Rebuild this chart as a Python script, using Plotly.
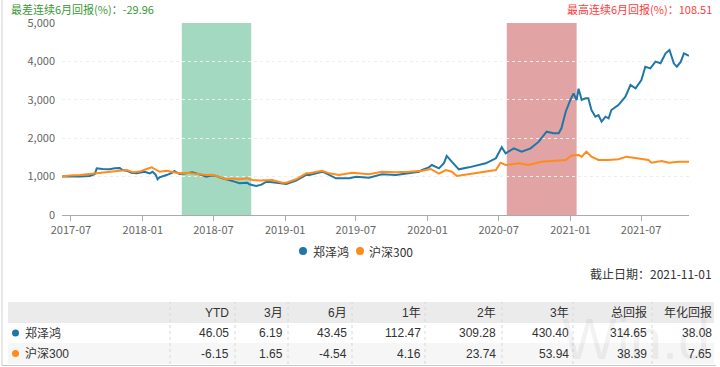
import plotly.graph_objects as go

# ---------------- data ----------------
blue_name = "郑泽鸿"
orange_name = "沪深300"

blue_dates = ["2017-06-08","2017-06-28","2017-07-24","2017-08-18","2017-08-31","2017-09-05","2017-09-20",
    "2017-10-08","2017-10-21","2017-11-03","2017-11-10","2017-11-21","2017-12-03","2017-12-16","2018-01-06",
    "2018-01-19","2018-01-26","2018-02-03","2018-02-08","2018-02-13","2018-03-03","2018-03-18","2018-03-23",
    "2018-04-05","2018-04-23","2018-05-08","2018-05-26","2018-06-13","2018-06-26","2018-07-09","2018-07-24",
    "2018-08-11","2018-08-24","2018-09-06","2018-09-26","2018-10-01","2018-10-19","2018-11-01","2018-11-14",
    "2018-11-29","2018-12-24","2019-01-04","2019-01-29","2019-02-24","2019-03-04","2019-03-29","2019-04-06",
    "2019-04-16","2019-05-01","2019-05-11","2019-06-14","2019-07-02","2019-08-04","2019-09-06","2019-10-12",
    "2019-11-14","2019-12-10","2019-12-18","2020-01-04","2020-01-12","2020-01-17","2020-01-30","2020-02-12",
    "2020-02-19","2020-03-03","2020-03-21","2020-04-16","2020-05-11","2020-05-29","2020-06-24","2020-07-09",
    "2020-07-19","2020-08-09","2020-08-29","2020-09-21","2020-10-12","2020-11-01","2020-11-19","2020-12-02",
    "2020-12-09","2020-12-20","2021-01-01","2021-01-09","2021-01-17","2021-01-22","2021-01-30","2021-02-09",
    "2021-02-16","2021-02-24","2021-03-06","2021-03-14","2021-03-22","2021-04-01","2021-04-09","2021-04-16",
    "2021-05-04","2021-05-22","2021-06-04","2021-06-17","2021-07-02","2021-07-12","2021-07-25","2021-08-07",
    "2021-08-20","2021-09-02","2021-09-12","2021-09-23","2021-10-01","2021-10-11","2021-10-19","2021-10-27",
    "2021-11-01"]
blue_vals = [1000,1010,1000,1016,1060,1215,1200,1190,1215,1224,1172,1154,1100,1085,1128,1085,1128,1050,930,982,
    1040,1102,1146,1068,1090,1111,1059,998,1030,1016,955,911,870,825,842,800,755,790,868,850,825,807,894,1042,
    1042,1102,1128,1085,998,955,955,998,972,1059,1042,1085,1128,1172,1241,1302,1276,1215,1350,1540,1389,1189,
    1241,1302,1346,1476,1765,1606,1736,1649,1736,1910,2170,2127,2127,2257,2690,3000,3168,2995,3290,2995,3038,
    3038,2734,2560,2604,2430,2560,2517,2734,2864,3081,3385,3299,3516,3862,3819,3993,3950,4210,4297,3950,3862,
    3993,4210,4167,4146]

orange_dates = ["2017-06-08","2017-06-28","2017-07-24","2017-08-18","2017-09-05","2017-10-08","2017-11-03",
    "2017-11-21","2017-12-08","2017-12-24","2018-01-11","2018-01-24","2018-02-05","2018-02-13","2018-03-03",
    "2018-03-18","2018-04-05","2018-04-23","2018-05-08","2018-05-26","2018-06-13","2018-06-29","2018-07-17",
    "2018-08-03","2018-08-19","2018-09-06","2018-09-26","2018-10-09","2018-10-27","2018-11-14","2018-11-29",
    "2018-12-24","2019-01-04","2019-01-29","2019-02-24","2019-03-04","2019-03-19","2019-04-06","2019-04-24",
    "2019-05-19","2019-06-21","2019-07-15","2019-08-04","2019-09-06","2019-10-12","2019-11-14","2019-12-18",
    "2020-01-09","2020-01-30","2020-02-17","2020-03-03","2020-03-16","2020-04-16","2020-05-29","2020-06-24",
    "2020-07-06","2020-07-19","2020-08-22","2020-09-16","2020-10-19","2020-11-14","2020-12-09","2020-12-20",
    "2021-01-04","2021-01-22","2021-01-30","2021-02-11","2021-02-24","2021-03-14","2021-04-09","2021-05-04",
    "2021-05-25","2021-06-17","2021-07-20","2021-07-28","2021-08-23","2021-09-10","2021-10-06","2021-11-01"]
orange_vals = [1000,1030,1040,1068,1085,1110,1146,1172,1111,1130,1198,1241,1172,1128,1154,1128,1085,1100,1085,
    1070,1042,1050,998,930,950,930,955,911,900,911,911,842,842,930,1085,1085,1120,1154,1085,1042,1102,1070,1059,
    1128,1111,1128,1154,1198,1075,1172,1128,1016,1068,1128,1172,1362,1302,1346,1302,1389,1406,1432,1432,1550,
    1562,1519,1649,1519,1432,1432,1450,1519,1476,1432,1362,1406,1362,1389,1389]

worst_band = ["2018-04-11", "2018-10-06"]
best_band = ["2020-07-22", "2021-01-17"]
worst_text = "最差连续6月回报(%)：-29.96"
best_text = "最高连续6月回报(%)：108.51"
end_date_text = "截止日期：2021-11-01"

table_headers = ["YTD", "3月", "6月", "1年", "2年", "3年", "总回报", "年化回报"]
blue_row = ["46.05", "6.19", "43.45", "112.47", "309.28", "430.40", "314.65", "38.08"]
orange_row = ["-6.15", "1.65", "-4.54", "4.16", "23.74", "53.94", "38.39", "7.65"]

BLUE = "#1f77a8"
ORANGE = "#ff8c1a"

# ---------------- layout helpers ----------------
L, R, T, B = 62, 689, 23, 215
def px(x):
    return (x - L) / (R - L)
def py(y):
    return (B - y) / (B - T)

fig = go.Figure()
fig.add_trace(go.Scatter(x=blue_dates, y=blue_vals, mode="lines", name=blue_name,
                         line=dict(color=BLUE, width=2), showlegend=False))
fig.add_trace(go.Scatter(x=orange_dates, y=orange_vals, mode="lines", name=orange_name,
                         line=dict(color=ORANGE, width=2), showlegend=False))

shapes = []
shapes.append(dict(type="rect", xref="x", yref="y", x0=worst_band[0], x1=worst_band[1], y0=0, y1=5000,
                   fillcolor="rgb(163,217,193)", line=dict(width=0), layer="below"))
shapes.append(dict(type="rect", xref="x", yref="y", x0=best_band[0], x1=best_band[1], y0=0, y1=5000,
                   fillcolor="rgb(225,163,163)", line=dict(width=0), layer="below"))

annotations = []
CJK = "Noto Sans CJK SC, Liberation Sans, sans-serif"
NUM = "Liberation Sans, Noto Sans CJK SC, sans-serif"

annotations.append(dict(text=worst_text, xref="paper", yref="paper", x=px(9), y=py(9),
                        xanchor="left", yanchor="middle", showarrow=False,
                        font=dict(size=11, color="#3a9a35", family=CJK)))
annotations.append(dict(text=best_text, xref="paper", yref="paper", x=px(714), y=py(9),
                        xanchor="right", yanchor="middle", showarrow=False,
                        font=dict(size=11, color="#ff3b3b", family=CJK)))

# legend (manual)
for cx, col, name, tx in [(303, BLUE, blue_name, 311), (360, ORANGE, orange_name, 367)]:
    shapes.append(dict(type="circle", xref="paper", yref="paper", x0=px(cx - 4), x1=px(cx + 4),
                       y0=py(251 + 4), y1=py(251 - 4), fillcolor=col, line=dict(width=0)))
    annotations.append(dict(text=name, xref="paper", yref="paper", x=px(tx), y=py(251),
                            xanchor="left", yanchor="middle", showarrow=False,
                            font=dict(size=12, color="#333", family=CJK)))

annotations.append(dict(text=end_date_text, xref="paper", yref="paper", x=px(714), y=py(273),
                        xanchor="right", yanchor="middle", showarrow=False,
                        font=dict(size=12, color="#333", family=CJK)))

# watermark
annotations.append(dict(text="Win.d", xref="paper", yref="paper", x=px(560), y=py(338),
                        xanchor="left", yanchor="middle", showarrow=False,
                        font=dict(size=58, color="rgba(0,0,0,0.05)", family="Liberation Sans")))

# table
tl, tr = 8, 714
rows_y = [(302, 323), (323, 343), (343, 364)]
fills = ["#ebebeb", "#ffffff", "#f6f6f6"]
for (y0, y1), f in zip(rows_y, fills):
    shapes.append(dict(type="rect", xref="paper", yref="paper", x0=px(tl), x1=px(tr), y0=py(y1), y1=py(y0),
                       fillcolor=f, line=dict(width=0), layer="below"))
for sx in [170, 235, 288, 352, 425, 502, 573, 652]:
    shapes.append(dict(type="line", xref="paper", yref="paper", x0=px(sx), x1=px(sx), y0=py(364), y1=py(302),
                       line=dict(color="#d8d8d8", width=1, dash="dot")))
col_right = [231, 285, 349, 423, 498, 571, 649, 714]
for i, rx in enumerate(col_right):
    annotations.append(dict(text=table_headers[i], xref="paper", yref="paper", x=px(rx), y=py(312.5),
                            xanchor="right", yanchor="middle", showarrow=False,
                            font=dict(size=12, color="#333", family=NUM)))
    annotations.append(dict(text=blue_row[i], xref="paper", yref="paper", x=px(rx), y=py(333),
                            xanchor="right", yanchor="middle", showarrow=False,
                            font=dict(size=12, color="#333", family=NUM)))
    annotations.append(dict(text=orange_row[i], xref="paper", yref="paper", x=px(rx), y=py(353.5),
                            xanchor="right", yanchor="middle", showarrow=False,
                            font=dict(size=12, color="#333", family=NUM)))
for cy, col, name in [(333, BLUE, blue_name), (353.5, ORANGE, orange_name)]:
    shapes.append(dict(type="circle", xref="paper", yref="paper", x0=px(12), x1=px(19),
                       y0=py(cy + 3.5), y1=py(cy - 3.5), fillcolor=col, line=dict(width=0)))
    annotations.append(dict(text=name, xref="paper", yref="paper", x=px(23), y=py(cy),
                            xanchor="left", yanchor="middle", showarrow=False,
                            font=dict(size=12, color="#333", family=NUM)))

# outer frame hints
shapes.append(dict(type="line", xref="paper", yref="paper", x0=px(2), x1=px(2), y0=py(366), y1=py(0),
                   line=dict(color="#d0d0d0", width=1)))
shapes.append(dict(type="line", xref="paper", yref="paper", x0=px(2), x1=px(716), y0=py(365.5), y1=py(365.5),
                   line=dict(color="#c8c8c8", width=1)))

fig.update_layout(
    width=720, height=367,
    margin=dict(l=L, r=720 - R, t=T, b=367 - B),
    paper_bgcolor="white", plot_bgcolor="white",
    showlegend=False,
    shapes=shapes, annotations=annotations,
    xaxis=dict(type="date", range=["2017-06-08", "2021-11-01"], dtick="M6", tick0="2017-07-01",
               tickformat="%Y-%m", showgrid=False, showline=True, linecolor="#aaaaaa", linewidth=1,
               ticks="outside", ticklen=5, tickcolor="#aaaaaa", zeroline=False,
               tickfont=dict(size=11, color="#666", family=CJK)),
    yaxis=dict(range=[0, 5000], dtick=1000, tickformat=",d", showgrid=True, gridcolor="#eeeeee",
               griddash="dot", zeroline=False, showline=False, ticks="", ticklabelstandoff=6,
               tickfont=dict(size=11, color="#666", family=CJK)),
)

fig.write_html("out.html", config={"displayModeBar": False},
               post_script="document.body.style.margin='0';document.body.style.overflow='hidden';")
